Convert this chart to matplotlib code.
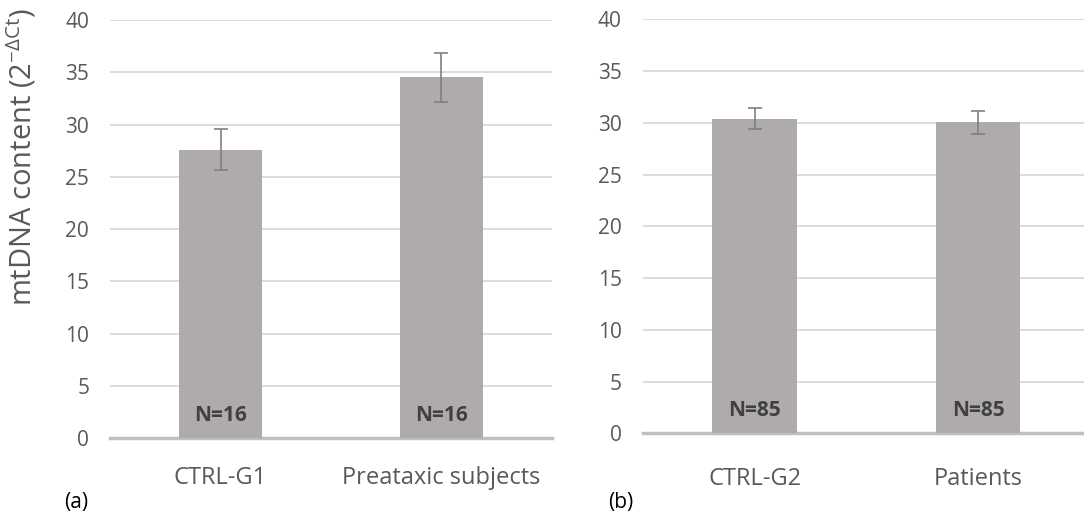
import matplotlib
matplotlib.use("Agg")
import matplotlib.pyplot as plt

plt.rcParams["font.family"] = ["Open Sans", "DejaVu Sans"]

# panel (a)
groups_a = ["CTRL-G1", "Preataxic subjects"]
means_a = [27.6, 34.5]
errs_a = [1.95, 2.3]
n_a = ["N=16", "N=16"]

# panel (b)
groups_b = ["CTRL-G2", "Patients"]
means_b = [30.4, 30.05]
errs_b = [1.0, 1.1]
n_b = ["N=85", "N=85"]

y_ticks = [0, 5, 10, 15, 20, 25, 30, 35, 40]

BAR_COLOR = "#afabab"
GRID_COLOR = "#d9d9d9"
TEXT_COLOR = "#595959"

fig = plt.figure(figsize=(10.84, 5.2), dpi=100)
ax_a = fig.add_axes([0.1015, 0.1577, 0.4077, 0.8038])
ax_b = fig.add_axes([0.5929, 0.1667, 0.4071, 0.7962])


def draw_panel(ax, groups, means, errs, ns, xmax, label_pad):
    x = list(range(len(groups)))
    ax.bar(x, means, width=0.376, color=BAR_COLOR, zorder=2)
    ax.errorbar(x, means, yerr=errs, fmt="none", ecolor="#808080",
                elinewidth=1.2, capsize=5, capthick=1.2, zorder=3)
    for xi, label in zip(x, ns):
        ax.text(xi, 2.2, label, ha="center", va="center", fontsize=15,
                fontweight="bold", color="#404040", zorder=4)
    ax.set_xlim(-0.5, xmax)
    ax.set_ylim(0, 40)
    ax.set_yticks(y_ticks)
    ax.set_xticks(x)
    ax.set_xticklabels(groups)
    ax.yaxis.grid(True, color=GRID_COLOR, lw=1.3, zorder=0)
    ax.set_axisbelow(True)
    ax.axhline(0, color="#bfbfbf", lw=2.5, zorder=1, clip_on=False)
    for s in ax.spines.values():
        s.set_visible(False)
    ax.tick_params(axis="y", length=0, pad=15, labelsize=15, labelcolor=TEXT_COLOR)
    ax.tick_params(axis="x", length=0, pad=label_pad, labelsize=17, labelcolor=TEXT_COLOR)


draw_panel(ax_a, groups_a, means_a, errs_a, n_a, 1.5, 20.5)
draw_panel(ax_b, groups_b, means_b, errs_b, n_b, 1.473, 24)

fig.text(0.02, 0.698, "mtDNA content (2$^{\\mathregular{-\\Delta Ct}}$)", rotation=90,
         ha="center", va="center", fontsize=21, color=TEXT_COLOR)
fig.text(0.070, 0.033, "(a)", ha="center", va="center", fontsize=15, color="black")
fig.text(0.573, 0.033, "(b)", ha="center", va="center", fontsize=15, color="black")

fig.savefig("out.png", dpi=100)
